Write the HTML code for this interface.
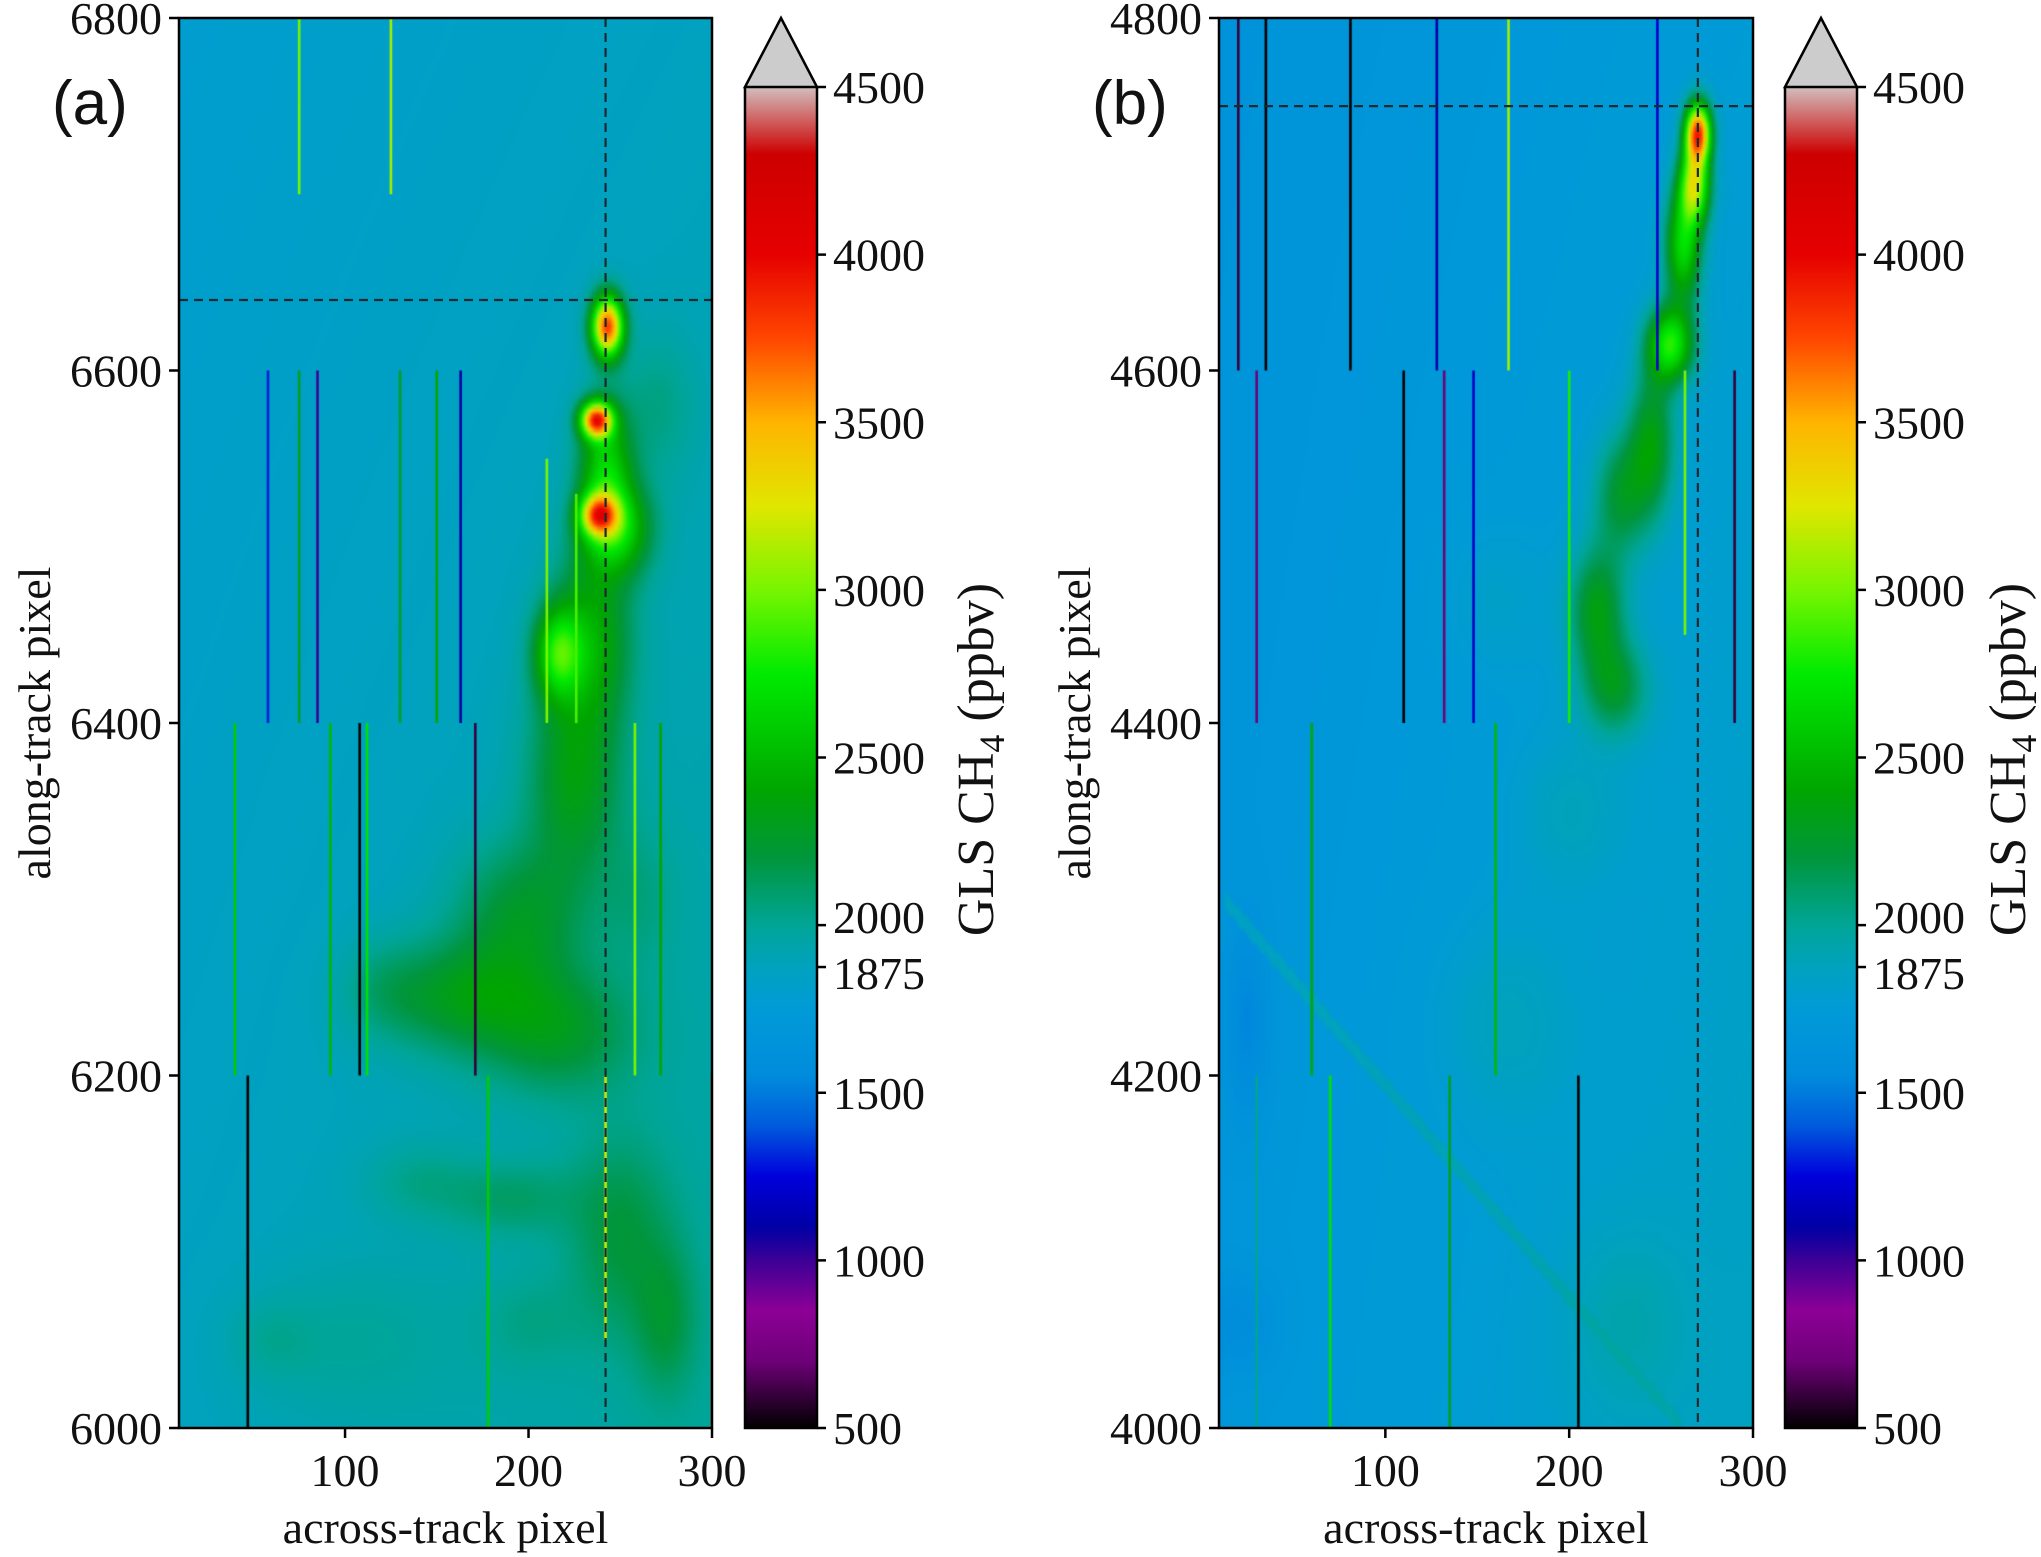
<!DOCTYPE html>
<html><head><meta charset="utf-8">
<style>
html,body{margin:0;padding:0;background:#fff;}
#wrap{position:relative;width:2041px;height:1557px;overflow:hidden;}
canvas{position:absolute;}
svg{position:absolute;left:0;top:0;}
text{font-family:"Liberation Serif",serif;fill:#111;}
</style></head>
<body>
<div id="wrap">
<canvas id="ca" width="533" height="1410" style="left:179px;top:18px"></canvas>
<canvas id="cb" width="534" height="1410" style="left:1219px;top:18px"></canvas>
<svg id="sv" width="2041" height="1557"></svg>
</div>
<script>
// ---- data ----
const xTicks=[100,200,300];
const yTicksA=[6000,6200,6400,6600,6800];
const yTicksB=[4000,4200,4400,4600,4800];
const cbTicks=[500,1000,1500,1875,2000,2500,3000,3500,4000,4500];
// background corner values [TL,TR,BL,BR]
const bgA=[1790,1870,1870,1980];
const bgB=[1640,1760,1690,1860];
// plume blobs: [x, y, excess ppbv, sigmaX, sigmaY]
const blobsA=[[243,6625,1900,6,12],[237,6572,1800,6,7],[242,6545,700,10,25],[238,6518,1300,7,8],[248,6510,700,13,18],[216,6440,750,9,18],[235,6450,500,15,35],[225,6370,420,18,40],[195,6290,330,25,30],[160,6245,350,30,22],[215,6225,330,30,25],[250,6110,250,20,40],[190,6130,180,25,15],[100,6050,90,40,30],[270,6580,150,15,30],[275,6060,220,12,30],[140,6140,120,20,15],[120,6250,110,15,20],[260,6300,120,15,30],[200,6060,100,20,20],[60,6050,80,15,15]];
const blobsB=[[270,4735,2000,5,12],[268,4705,1300,6,15],[262,4670,900,7,22],[255,4615,1000,9,15],[245,4560,550,9,30],[228,4530,450,11,25],[215,4465,550,11,25],[225,4420,450,13,20],[165,4230,120,25,40],[25,4230,-150,8,40],[20,4060,-120,15,20],[230,4060,120,25,40],[200,4350,120,20,30],[160,4470,90,20,30]];
// stripes: [x, yStart, yEnd, value]
const stripesA=[[47,6000,6200,500],[58,6400,6600,1300],[85,6400,6600,1000],[108,6200,6400,500],[163,6400,6600,1100],[171,6200,6400,600],[75,6700,6800,3000],[125,6700,6800,3100],[210,6400,6550,3000],[226,6400,6530,2900],[258,6200,6400,3000],[242,6050,6200,3200],[300,6000,6200,3800],[112,6200,6400,2700],[40,6200,6400,2600],[178,6000,6200,2600],[150,6400,6600,2400],[130,6400,6600,2300],[75,6400,6600,2300],[92,6200,6400,2500],[272,6200,6400,2400]];
const stripesB=[[20,4600,4800,600],[30,4400,4600,700],[35,4600,4800,500],[81,4600,4800,500],[128,4600,4800,1100],[205,4000,4200,500],[110,4400,4600,500],[132,4400,4600,700],[148,4400,4600,1200],[290,4400,4600,600],[167,4600,4800,3100],[70,4000,4200,2700],[30,4000,4200,2000],[248,4600,4800,1200],[263,4450,4600,3000],[200,4400,4600,2800],[60,4200,4400,2400],[135,4000,4200,2300],[160,4200,4400,2500]];
// diagonal feature in (b): [x0,y0,x1,y1,value]
const diagB=[12,4300,262,4000,1990];
const dashA=[242,6640], dashB=[270,4750];

// ---- colormap ----
const cstops=[[500,[0,0,0]],[700,[110,0,120]],[850,[140,0,150]],[1000,[60,0,150]],[1100,[0,0,165]],[1250,[0,0,220]],[1400,[0,90,220]],[1550,[0,140,220]],[1750,[0,155,215]],[1875,[0,162,190]],[2000,[0,165,150]],[2200,[0,150,60]],[2400,[0,165,0]],[2750,[0,235,0]],[3000,[120,245,0]],[3250,[225,230,0]],[3500,[255,180,0]],[3750,[255,70,0]],[4000,[230,0,0]],[4300,[205,0,0]],[4500,[210,190,190]]];
function cmap(v){
  if(v<=cstops[0][0])return cstops[0][1];
  if(v>=4500)return [204,204,204];
  for(let i=1;i<cstops.length;i++){if(v<=cstops[i][0]){const a=cstops[i-1],b=cstops[i];const t=(v-a[0])/(b[0]-a[0]);return a[1].map((c,k)=>Math.round(c+(b[1][k]-c)*t));}}
}
const X0=9.5,X1=300;
function drawHeat(id,bg,blobs,stripes,y0,y1,diag){
  const cv=document.getElementById(id),ctx=cv.getContext('2d');
  const W=cv.width,H=cv.height;
  const sx=x=>(x-X0)/(X1-X0)*W, sy=y=>(y1-y)/(y1-y0)*H;
  const nx=180,ny=300;
  const off=document.createElement('canvas');off.width=nx;off.height=ny;
  const oc=off.getContext('2d'),img=oc.createImageData(nx,ny);
  for(let j=0;j<ny;j++){const y=y1-(j+0.5)/ny*(y1-y0);const ty=(y1-y)/(y1-y0);
    for(let i=0;i<nx;i++){const x=X0+(i+0.5)/nx*(X1-X0);const tx=(x-X0)/(X1-X0);
      let v=bg[0]*(1-tx)*(1-ty)+bg[1]*tx*(1-ty)+bg[2]*(1-tx)*ty+bg[3]*tx*ty;
      for(const b of blobs){const dx=(x-b[0])/b[3],dy=(y-b[1])/b[4];v+=b[2]*Math.exp(-0.5*(dx*dx+dy*dy));}
      if(diag){const[a0,b0,a1,b1,dv]=diag;const px=(x-a0)/(a1-a0),py=(y-b0)/(b1-b0);if(px>=0&&px<=1){const d=Math.abs(px-py)*(a1-a0);if(d<4)v=v*0.4+dv*0.6;}}
      const c=cmap(v),k=(j*nx+i)*4;img.data[k]=c[0];img.data[k+1]=c[1];img.data[k+2]=c[2];img.data[k+3]=255;}}
  oc.putImageData(img,0,0);
  ctx.imageSmoothingEnabled=true;ctx.drawImage(off,0,0,W,H);
  for(const s of stripes){const c=cmap(s[3]);ctx.fillStyle=`rgb(${c})`;const x=sx(s[0]);ctx.fillRect(x-1.3,sy(s[2]),2.6,sy(s[1])-sy(s[2]));}
}
drawHeat('ca',bgA,blobsA,stripesA,6000,6800,null);
drawHeat('cb',bgB,blobsB,stripesB,4000,4800,diagB);

// ---- axes (SVG) ----
const NS='http://www.w3.org/2000/svg',sv=document.getElementById('sv');
function el(t,a,p){const e=document.createElementNS(NS,t);for(const k in a)e.setAttribute(k,a[k]);(p||sv).appendChild(e);return e;}
function panel(L,R,T,B,yt,y0,y1,dash,cbL,cbR,tag,tagX,ylabX,cbLabX,cbTitleX,p){
  const g=el('g',{});
  
  
  const sx=x=>L+(x-X0)/(X1-X0)*(R-L), sy=y=>B-(y-y0)/(y1-y0)*(B-T);
  const dv=el('line',{x1:sx(dash[0]),x2:sx(dash[0]),y1:T,y2:B,stroke:'#1a2a30','stroke-width':2.2,'stroke-dasharray':'9,6'},g);
  
  
  const dh=el('line',{x1:L,x2:R,y1:sy(dash[1]),y2:sy(dash[1]),stroke:'#1a2a30','stroke-width':2.2,'stroke-dasharray':'9,6'},g);
  
  
  const fr=el('rect',{x:L,y:T,width:R-L,height:B-T,fill:'none',stroke:'#000','stroke-width':2.5},g);
  
  
  for(const v of xTicks){const x=sx(v);el('line',{x1:x,x2:x,y1:B,y2:B+10,stroke:'#000','stroke-width':2.5},g);
    const t=el('text',{x:x,y:1486,'font-size':46,'text-anchor':'middle'},g);t.textContent=v;
    
    }
  for(const v of yt){const y=sy(v);el('line',{x1:L-10,x2:L,y1:y,y2:y,stroke:'#000','stroke-width':2.5},g);
    const t=el('text',{x:L-17,y:y+16,'font-size':46,'text-anchor':'end'},g);t.textContent=v;
    
    }
  const xl=el('text',{x:(L+R)/2,y:1543,'font-size':46,'text-anchor':'middle'},g);xl.textContent='across-track pixel';
  
  
  const yl=el('text',{x:0,y:0,'font-size':46,'text-anchor':'middle',transform:`translate(${ylabX},${(T+B)/2}) rotate(-90)`},g);yl.textContent='along-track pixel';
  
  
  const tg=el('text',{x:tagX,y:124,'font-size':62,style:'font-family:"Liberation Sans",sans-serif'},g);tg.textContent=tag;
  
  
  // colorbar
  const cT=87,cB=1428,cv=v=>cB-(v-500)/4000*(cB-cT);
  const defs=el('defs',{},g);const gr=el('linearGradient',{id:'cg'+p,x1:0,y1:1,x2:0,y2:0},defs);
  for(const s of cstops){const c=s[1];el('stop',{offset:((s[0]-500)/4000).toFixed(4),'stop-color':`rgb(${c})`},gr);}
  const cr=el('rect',{x:cbL,y:cT,width:cbR-cbL,height:cB-cT,fill:`url(#cg${p})`},g);
  
  
  const tri=el('polygon',{points:`${cbL},${cT} ${(cbL+cbR)/2},18 ${cbR},${cT}`,fill:'#cccccc',stroke:'#000','stroke-width':2.5},g);
  
  
  el('polyline',{points:`${cbL},${cT} ${cbL},${cB} ${cbR},${cB} ${cbR},${cT}`,fill:'none',stroke:'#000','stroke-width':2.5},g);
  for(const v of cbTicks){const y=cv(v);el('line',{x1:cbR,x2:cbR+9,y1:y,y2:y,stroke:'#000','stroke-width':2.5},g);
    const t=el('text',{x:cbLabX,y:y+(v===1875?22:v===2000?8:16),'font-size':46},g);t.textContent=v;
    
    }
  const ct=el('text',{x:0,y:0,'font-size':52,'text-anchor':'middle',transform:`translate(${cbTitleX},${(cT+cB)/2+2}) rotate(-90)`},g);
  ct.innerHTML='GLS CH<tspan font-size="36" dy="11">4</tspan><tspan dy="-11"> (ppbv)</tspan>';
  
  
}
panel(179,712,18,1428,yTicksA,6000,6800,dashA,745,817,'(a)',52,50,833,993,'a');
panel(1219,1753,18,1428,yTicksB,4000,4800,dashB,1785,1857,'(b)',1092,1090,1873,2025,'b');
</script>
</body></html>
